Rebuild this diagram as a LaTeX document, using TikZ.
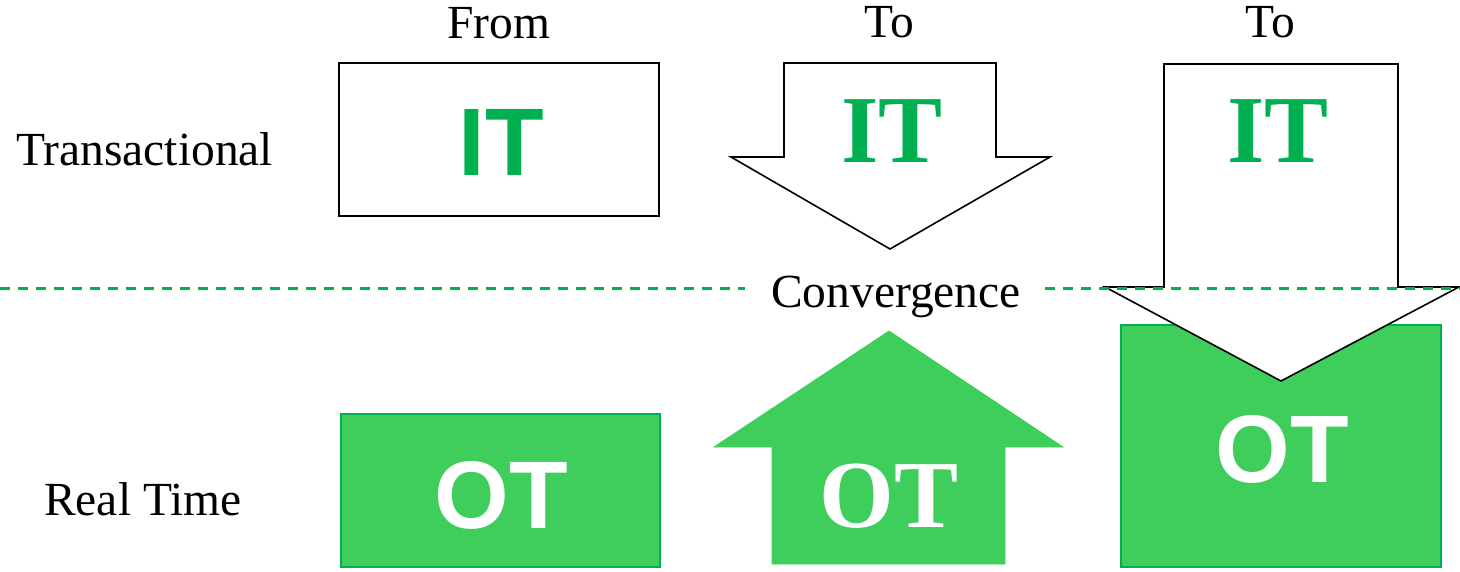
\documentclass[tikz,border=0pt]{standalone}
\usepackage{fontspec}
\setmainfont{Liberation Serif}
\newfontfamily\arialfont{Liberation Sans}
\definecolor{itgreen}{HTML}{00B050}
\definecolor{otfill}{HTML}{3FCE5B}
\begin{document}
\begin{tikzpicture}[x=1pt,y=-1pt,
  label/.style={inner sep=0pt,anchor=base,font=\fontsize{47.5}{50}\selectfont},
  bigsans/.style={inner sep=0pt,anchor=base,font=\arialfont\bfseries\fontsize{96}{100}\selectfont},
  bigserif/.style={inner sep=0pt,anchor=base,font=\bfseries\fontsize{96}{100}\selectfont},
  outline/.style={draw=black,line width=1.6pt,fill=white,line join=miter},
  otbox/.style={draw=itgreen,line width=1.4pt,fill=otfill},
  divider/.style={draw=itgreen,line width=2.4pt,dash pattern=on 10pt off 8pt}]
\useasboundingbox (0,0) rectangle (1460,572);

% green OT block behind the large down arrow
\path[otbox] (1121,325) rectangle (1441,567);

% left column: plain IT box and OT block
\path[outline] (339,63) rectangle (659,216);
\path[otbox] (341,414) rectangle (660,567);

% middle column: IT arrow pointing down, OT arrow pointing up
\path[outline] (784,63) -- (996,63) -- (996,157) -- (1050,157) -- (890,249)
  -- (731,157) -- (784,157) -- cycle;
\path[fill=otfill,draw=otfill,line width=0.8pt] (889,331) -- (1063,447) -- (1005,447)
  -- (1005,564) -- (772,564) -- (772,447) -- (714,447) -- cycle;

% right column: IT arrow reaching into the OT block
\path[outline] (1164,64) -- (1398,64) -- (1398,287) -- (1459,287) -- (1281,381)
  -- (1105,287) -- (1164,287) -- cycle;

% dashed boundary between the two layers
\coordinate (dl0) at (0,288.5);
\coordinate (dl1) at (745,288.5);
\coordinate (dr0) at (1045,288.5);
\coordinate (dr1) at (1460,288.5);
\draw[divider] (dl0) -- (dl1);
\draw[divider] (dr0) -- (dr1);

% column and row labels
\node[label] (from) at (499,39) {From};
\node[label] (to1) at (889,38) {To};
\node[label] (to2) at (1270,38) {To};
\node[label,anchor=base west] (trans) at (16,166) {Transactional};
\node[label,anchor=base west] (realtime) at (44,515) {Real Time};
\node[label] (conv) at (896,308) {Convergence};

% block captions
\node[bigsans,text=itgreen] (it1) at (501,176) {IT};
\node[bigsans,text=white] (ot1) at (501,528) {OT};
\node[bigserif,text=itgreen] (it2) at (892,163) {IT};
\node[bigserif,text=white] (ot2) at (889,527) {OT};
\node[bigserif,text=itgreen] (it3) at (1278,163) {IT};
\node[bigsans,text=white] (ot3) at (1282,482) {OT};
\end{tikzpicture}
\end{document}
